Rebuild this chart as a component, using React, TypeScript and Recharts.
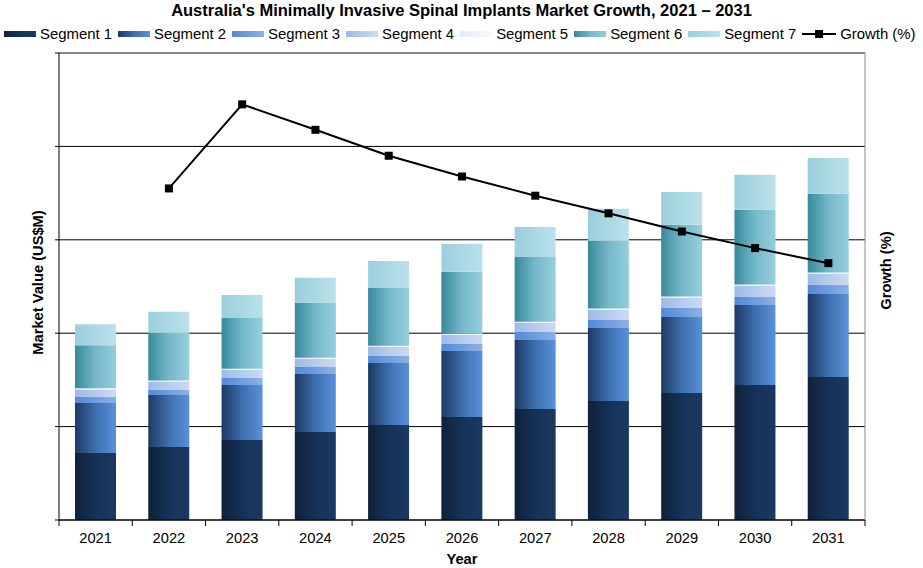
import React from 'react'
import { ComposedChart, Bar, Line, XAxis, YAxis, CartesianGrid, ReferenceLine } from 'recharts'

// values (left axis in US$M, gridline = 100; right axis in %)
const years = ['2021', '2022', '2023', '2024', '2025', '2026', '2027', '2028', '2029', '2030', '2031']
const segment1 = [71.7, 78.2, 85.7, 94.2, 101.7, 110.3, 118.8, 127.4, 136.0, 144.5, 153.1]
const segment2 = [53.5, 55.7, 58.9, 62.1, 66.4, 70.7, 73.9, 78.2, 81.4, 85.7, 88.9]
const segment3 = [6.4, 5.7, 7.5, 7.5, 7.5, 7.5, 8.6, 8.6, 9.6, 8.6, 9.6]
const segment4 = [8.2, 8.6, 8.6, 8.6, 9.6, 9.6, 9.6, 10.7, 10.7, 11.8, 11.8]
const segment5 = [1.2, 1.2, 1.2, 1.3, 1.3, 1.4, 1.4, 1.5, 1.5, 1.6, 1.6]
const segment6 = [46.0, 51.0, 54.5, 58.8, 62.0, 66.3, 69.4, 72.5, 76.8, 80.0, 84.2]
const segment7 = [22.5, 22.5, 24.6, 26.8, 28.9, 30.0, 32.1, 34.3, 35.3, 37.5, 38.5]
const growth = [null, 6.39, 8.01, 7.52, 7.02, 6.62, 6.25, 5.91, 5.56, 5.24, 4.95]

const segmentNames = ['Segment 1', 'Segment 2', 'Segment 3', 'Segment 4', 'Segment 5', 'Segment 6', 'Segment 7']
const segmentValues = [segment1, segment2, segment3, segment4, segment5, segment6, segment7]
const leftTicks = [0, 100, 200, 300, 400, 500]
const rightTicks = [0, 1, 2, 3, 4, 5, 6, 7, 8, 9]

// horizontal gradients, left -> right
const segmentStops = [
  ['#0f213a', '#163258', '#1a3961'],
  ['#1d3963', '#3d6fae', '#5a91da'],
  ['#5489d5', '#6f9de0', '#8fb1e4'],
  ['#9db9e5', '#b6ccec', '#cbdaf2'],
  ['#e3ebf7', '#eef3fa', '#f6f8fc'],
  ['#37899b', '#74b8c9', '#95cfdc'],
  ['#9acfdd', '#aad8e3', '#bbe1ea'],
]

const data = years.map((year, i) => {
  const row: Record<string, any> = { year, growth: growth[i] }
  segmentValues.forEach((vals, s) => { row['s' + (s + 1)] = vals[i] })
  return row
})

const FONT = '"Liberation Sans", Arial, sans-serif'
const W = 923
const H = 568
const LEFT_W = 59
const RIGHT_W = 58
const TICK_SIZE = 6
const TICK_MARGIN = 7

const YearTick = (props: any) => {
  const { x, y, payload, index } = props
  const half = (W - LEFT_W - RIGHT_W) / years.length / 2
  const top = y - TICK_SIZE - TICK_MARGIN
  return (
    <g>
      <line x1={x - half} x2={x - half} y1={top} y2={top + TICK_SIZE} stroke="#000" />
      {index === years.length - 1 && (
        <line x1={x + half} x2={x + half} y1={top} y2={top + TICK_SIZE} stroke="#000" />
      )}
      <text x={x} y={y} dy="0.71em" textAnchor="middle" fontSize={14.7} fontFamily={FONT} fill="#000">
        {payload.value}
      </text>
    </g>
  )
}

const RotatedTitle = (props: any) => {
  const { viewBox, text, cx, cy } = props
  const x = viewBox ? viewBox.x + cx : cx
  const y = viewBox ? viewBox.y + viewBox.height / 2 + cy : 0
  return (
    <text x={x} y={y} transform={`rotate(-90, ${x}, ${y})`} textAnchor="middle" dominantBaseline="central"
      fontSize={14.7} fontWeight="bold" fontFamily={FONT} fill="#000">
      {text}
    </text>
  )
}

const Square = (props: any) => {
  const { cx, cy } = props
  if (cx == null || cy == null || props.value == null) return null
  return <rect x={cx - 4} y={cy - 4} width={8} height={8} fill="#000" />
}

const cssGradient = (stops: string[]) => `linear-gradient(to right, ${stops.join(', ')})`

const LegendRow = () => (
  <div style={{ position: 'absolute', left: 4, top: 26, display: 'flex', alignItems: 'center', fontFamily: FONT, fontSize: 14.9, whiteSpace: 'nowrap' }}>
    {segmentNames.map((name, i) => (
      <div key={name} style={{ display: 'flex', alignItems: 'center', marginRight: 6 }}>
        <div style={{ width: 32, height: 6, background: cssGradient(segmentStops[i]), marginRight: 4 }} />
        <span>{name}</span>
      </div>
    ))}
    <div style={{ display: 'flex', alignItems: 'center' }}>
      <svg width={34} height={10} style={{ marginRight: 4 }}>
        <line x1={0} x2={34} y1={5} y2={5} stroke="#000" strokeWidth={2} />
        <rect x={13} y={1} width={8} height={8} fill="#000" />
      </svg>
      <span>Growth (%)</span>
    </div>
  </div>
)

export default function App() {
  return (
    <div style={{ position: 'absolute', left: 0, top: 0, width: W, height: H, background: '#fff', fontFamily: FONT }}>
      <svg width={0} height={0} style={{ position: 'absolute' }}>
        <defs>
          {segmentStops.map((stops, i) => (
            <linearGradient key={i} id={'seg' + (i + 1)} x1="0" y1="0" x2="1" y2="0">
              {stops.map((c, k) => (
                <stop key={k} offset={`${(k / (stops.length - 1)) * 100}%`} stopColor={c} />
              ))}
            </linearGradient>
          ))}
        </defs>
      </svg>
      <div style={{ position: 'absolute', left: 0, top: 1, width: W, textAlign: 'center', fontWeight: 'bold', fontSize: 16.5 }}>
        Australia's Minimally Invasive Spinal Implants Market Growth, 2021 – 2031
      </div>
      <LegendRow />
      <ComposedChart width={W} height={H} data={data} margin={{ top: 53, right: 0, bottom: 18, left: 0 }}>
        <CartesianGrid vertical={false} stroke="#000" strokeOpacity={1} />
        <ReferenceLine y={500} stroke="#8c8c8c" strokeWidth={1.5} />
        <XAxis dataKey="year" height={30} stroke="#000" tickLine={false} tickSize={TICK_SIZE} tickMargin={TICK_MARGIN}
          tick={<YearTick />} interval={0}
          label={{ value: 'Year', position: 'bottom', offset: 4, style: { fontWeight: 'bold', fontSize: 14.7, fontFamily: FONT, fill: '#000' } }} />
        <YAxis width={LEFT_W} domain={[0, 500]} ticks={leftTicks} tickFormatter={() => ''} tickSize={4} stroke="#000"
          label={<RotatedTitle text="Market Value (US$M)" cx={38} cy={-4} />} />
        <YAxis yAxisId="right" orientation="right" width={RIGHT_W} domain={[0, 9]} ticks={rightTicks} tick={false} tickSize={5}
          stroke="#8c8c8c" label={<RotatedTitle text="Growth (%)" cx={21} cy={-16} />} />
        {segmentNames.map((name, i) => (
          <Bar key={name} dataKey={'s' + (i + 1)} name={name} stackId="a" barSize={41}
            fill={`url(#seg${i + 1})`} isAnimationActive={false} />
        ))}
        <Line yAxisId="right" dataKey="growth" name="Growth (%)" stroke="#000" strokeWidth={2} dot={<Square />}
          activeDot={false} isAnimationActive={false} />
      </ComposedChart>
    </div>
  )
}
